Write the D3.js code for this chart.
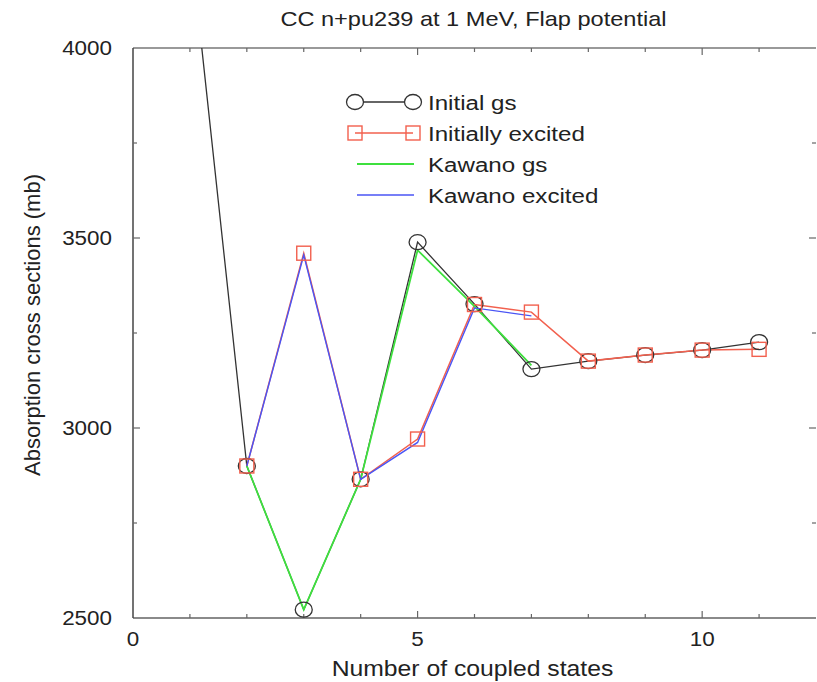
<!DOCTYPE html>
<html>
<head>
<meta charset="utf-8">
<script src="https://cdn.jsdelivr.net/npm/d3@7"></script>
<style>
  body { margin: 0; background: #fff; }
  text { font-family: "Liberation Sans", Arial, sans-serif; fill: #222; }
</style>
</head>
<body>
<div id="vis"></div>
<script>
// Data
var states = [1, 2, 3, 4, 5, 6, 7, 8, 9, 10, 11];
var initialGs = [4290, 2900, 2522, 2865, 3489, 3326, 3155, 3176, 3192, 3205, 3226];

var excitedStates = [2, 3, 4, 5, 6, 7, 8, 9, 10, 11];
var initiallyExcited = [2900, 3460, 2865, 2971, 3325, 3305, 3176, 3192, 3205, 3207];

var kawanoStates = [2, 3, 4, 5, 6, 7];
var kawanoGs = [2900, 2522, 2865, 3468, 3320, 3165];
var kawanoExcited = [2900, 3455, 2865, 2962, 3316, 3295];

var xTicks = [0, 5, 10];
var yTicks = [2500, 3000, 3500, 4000];

var legendNames = ['Initial gs', 'Initially excited', 'Kawano gs', 'Kawano excited'];

// Layout
var width = 817, height = 682;
var margin = { top: 48, right: 1, bottom: 64, left: 133 };
var drawWidth = width - margin.left - margin.right;
var drawHeight = height - margin.top - margin.bottom;

// the source picture is stretched sideways, so horizontal text gets a small x-scale
var stretch = 1.15;

var svg = d3.select('#vis').append('svg')
    .attr('width', width)
    .attr('height', height);

svg.append('defs').append('clipPath').attr('id', 'clip')
    .append('rect').attr('width', drawWidth).attr('height', drawHeight);

var g = svg.append('g')
    .attr('transform', `translate(${margin.left},${margin.top})`);

function wideText(parent, x, y, txt, size, anchor) {
    return parent.append('text')
        .attr('transform', `translate(${x},${y}) scale(${stretch},1)`)
        .attr('text-anchor', anchor || 'start')
        .style('font-size', size + 'px')
        .text(txt);
}

// Scales
var xScale = d3.scaleLinear().domain([0, 12]).range([0, drawWidth]);
var yScale = d3.scaleLinear().domain([2500, 4000]).range([drawHeight, 0]);

// Frame: top grey line, bottom grey axis, dark left axis, right side only ticks
g.append('line').attr('x1', 0).attr('x2', drawWidth).attr('y1', 0).attr('y2', 0)
    .attr('stroke', '#999').attr('stroke-width', 2);
g.append('line').attr('x1', 0).attr('x2', drawWidth).attr('y1', drawHeight).attr('y2', drawHeight)
    .attr('stroke', '#8a8a8a').attr('stroke-width', 2);
g.append('line').attr('x1', 0).attr('x2', 0).attr('y1', 0).attr('y2', drawHeight)
    .attr('stroke', '#444').attr('stroke-width', 1.5);

// Inward ticks
d3.range(1, 12).forEach(function(v) {
    var len = (v % 5 === 0) ? 7 : 4;
    [[drawHeight, -len], [0, len]].forEach(function(p) {
        g.append('line')
            .attr('x1', xScale(v)).attr('x2', xScale(v))
            .attr('y1', p[0]).attr('y2', p[0] + p[1])
            .attr('stroke', '#666').attr('stroke-width', 1.2);
    });
});
d3.range(2750, 4000, 250).forEach(function(v) {
    var len = (v % 500 === 0) ? 7 : 4;
    [[0, len], [drawWidth, -len]].forEach(function(p) {
        g.append('line')
            .attr('x1', p[0]).attr('x2', p[0] + p[1])
            .attr('y1', yScale(v)).attr('y2', yScale(v))
            .attr('stroke', '#666').attr('stroke-width', 1.2);
    });
});

// Tick labels
xTicks.forEach(function(d) {
    wideText(g, xScale(d), drawHeight + 28, d, 19.5, 'middle');
});
yTicks.forEach(function(d) {
    wideText(g, -21, yScale(d) + 7, d, 19.5, 'end');
});

// Axis titles and chart title
wideText(svg, margin.left + drawWidth / 2 - 2, 676, 'Number of coupled states', 21.5, 'middle');

svg.append('text')
    .attr('transform', `translate(40,${margin.top + drawHeight / 2 - 8}) rotate(-90)`)
    .attr('text-anchor', 'middle')
    .style('font-size', '22px')
    .text('Absorption cross sections (mb)');

wideText(svg, margin.left + drawWidth / 2 - 1, 26, 'CC n+pu239 at 1 MeV, Flap potential', 20.5, 'middle');

// Series
var line = d3.line().x(d => xScale(d[0])).y(d => yScale(d[1]));
var plot = g.append('g').attr('clip-path', 'url(#clip)');

var gsData = d3.zip(states, initialGs);
var exData = d3.zip(excitedStates, initiallyExcited);
var kgsData = d3.zip(kawanoStates, kawanoGs);
var kexData = d3.zip(kawanoStates, kawanoExcited);

var colBlack = '#333', colRed = '#f2604e', colGreen = '#3ee03e', colBlue = '#4a55f5';

plot.append('path').datum(gsData).attr('d', line)
    .attr('fill', 'none').attr('stroke', colBlack).attr('stroke-width', 1.3);
plot.append('path').datum(exData).attr('d', line)
    .attr('fill', 'none').attr('stroke', colRed).attr('stroke-width', 1.5);
plot.append('path').datum(kgsData).attr('d', line)
    .attr('fill', 'none').attr('stroke', colGreen).attr('stroke-width', 1.8);
plot.append('path').datum(kexData).attr('d', line)
    .attr('fill', 'none').attr('stroke', colBlue).attr('stroke-width', 1.4);

plot.selectAll('.gs').data(gsData).enter().append('ellipse')
    .attr('class', 'gs')
    .attr('cx', d => xScale(d[0])).attr('cy', d => yScale(d[1]))
    .attr('rx', 8.5).attr('ry', 7.5)
    .attr('fill', 'none').attr('stroke', colBlack).attr('stroke-width', 1.3);

plot.selectAll('.ex').data(exData).enter().append('rect')
    .attr('class', 'ex')
    .attr('x', d => xScale(d[0]) - 7).attr('y', d => yScale(d[1]) - 7)
    .attr('width', 14).attr('height', 14)
    .attr('fill', 'none').attr('stroke', colRed).attr('stroke-width', 1.4);

// Legend
var legend = svg.append('g').attr('transform', 'translate(355,102)');
var rowH = 31;
legendNames.forEach(function(name, i) {
    var row = legend.append('g').attr('transform', `translate(0,${i * rowH})`);
    var col = [colBlack, colRed, colGreen, colBlue][i];
    var sw = [1.3, 1.5, 1.8, 1.4][i];
    row.append('line').attr('x1', i < 2 ? 0 : 2).attr('x2', i < 2 ? 58 : 59)
        .attr('stroke', col).attr('stroke-width', sw);
    if (i === 0) {
        [0, 58].forEach(function(x) {
            row.append('ellipse').attr('cx', x).attr('rx', 8.5).attr('ry', 7.5)
                .attr('fill', '#fff').attr('stroke', colBlack).attr('stroke-width', 1.3);
        });
    }
    if (i === 1) {
        [0, 58].forEach(function(x) {
            row.append('rect').attr('x', x - 7).attr('y', -7).attr('width', 14).attr('height', 14)
                .attr('fill', 'none').attr('stroke', colRed).attr('stroke-width', 1.4);
        });
    }
    wideText(row, 73, 8, name, 21);
});
</script>
</body>
</html>
